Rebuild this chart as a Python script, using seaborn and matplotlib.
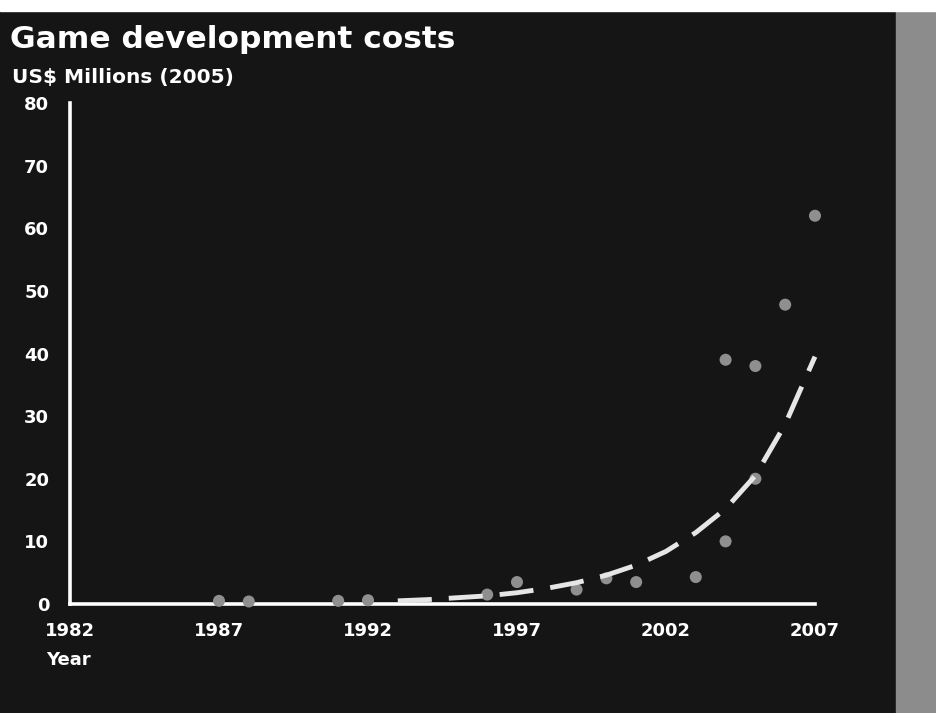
import matplotlib
matplotlib.use("Agg")
import matplotlib.pyplot as plt
import seaborn as sns
import pandas as pd

# Data
point_years = [1987, 1988, 1991, 1992, 1996, 1997, 1999, 2000, 2001, 2003, 2004, 2004, 2005, 2005, 2006, 2007]
point_costs = [0.5, 0.4, 0.5, 0.6, 1.5, 3.5, 2.3, 4.1, 3.5, 4.3, 10.0, 39.0, 20.0, 38.0, 47.8, 62.0]

trend_years = [1993, 1994, 1995, 1996, 1997, 1998, 1999, 2000, 2001, 2002, 2003, 2004, 2005, 2006, 2007]
trend_costs = [0.5, 0.7, 1.0, 1.3, 1.8, 2.5, 3.4, 4.6, 6.2, 8.4, 11.4, 15.2, 20.5, 28.7, 39.5]

x_ticks = [1982, 1987, 1992, 1997, 2002, 2007]
y_ticks = [0, 10, 20, 30, 40, 50, 60, 70, 80]

title_text = "Game development costs"
unit_text = "US$ Millions (2005)"
x_label_text = "Year"

BG = "#151515"
FG = "white"

sns.set_theme(style="dark")
plt.rcParams["font.family"] = ["DejaVu Sans"]

fig = plt.figure(figsize=(9.36, 7.13), dpi=100)
fig.patch.set_facecolor(BG)
# right-hand grey scan strip and white top margin
fig.add_artist(plt.Rectangle((0.957, 0), 0.043, 1, transform=fig.transFigure, color="#8c8c8c", zorder=0))
fig.add_artist(plt.Rectangle((0, 0.985), 1, 0.015, transform=fig.transFigure, color="white", zorder=0))

ax = fig.add_axes([0.0748, 0.1529, 0.7959, 0.7026])
ax.set_facecolor(BG)

pts = pd.DataFrame({"year": point_years, "cost": point_costs})
trend = pd.DataFrame({"year": trend_years, "cost": trend_costs})

sns.scatterplot(data=pts, x="year", y="cost", ax=ax, s=75, color="#8f8f8f",
                edgecolor="none", zorder=3, clip_on=False)
sns.lineplot(data=trend, x="year", y="cost", ax=ax, color="#e6e6e6", lw=3.5,
             dashes=(7, 3.5), zorder=4, clip_on=False)

ax.set_xlim(1982, 2007)
ax.set_ylim(0, 80)
ax.set_xticks(x_ticks)
ax.set_yticks(y_ticks)
ax.set_xticklabels([str(t) for t in x_ticks])
ax.set_yticklabels([str(t) for t in y_ticks])
ax.set_xlabel("")
ax.set_ylabel("")
ax.grid(False)

for s in ["top", "right"]:
    ax.spines[s].set_visible(False)
for s in ["left", "bottom"]:
    ax.spines[s].set_visible(True)
    ax.spines[s].set_color(FG)
    ax.spines[s].set_linewidth(2.6)

ax.tick_params(axis="both", direction="in", colors=FG, length=6, width=2,
               labelsize=13, labelcolor=FG)
ax.tick_params(axis="y", pad=15)
ax.tick_params(axis="x", pad=13)
for lab in ax.get_xticklabels() + ax.get_yticklabels():
    lab.set_fontweight("bold")

fig.text(0.011, 0.945, title_text, color=FG, fontsize=22.5, fontweight="bold",
         ha="left", va="center")
fig.text(0.013, 0.892, unit_text, color=FG, fontsize=14.5, fontweight="bold",
         ha="left", va="center")
fig.text(0.049, 0.074, x_label_text, color=FG, fontsize=13, fontweight="bold",
         ha="left", va="center")

fig.savefig("out.png", dpi=100, facecolor=fig.get_facecolor())
